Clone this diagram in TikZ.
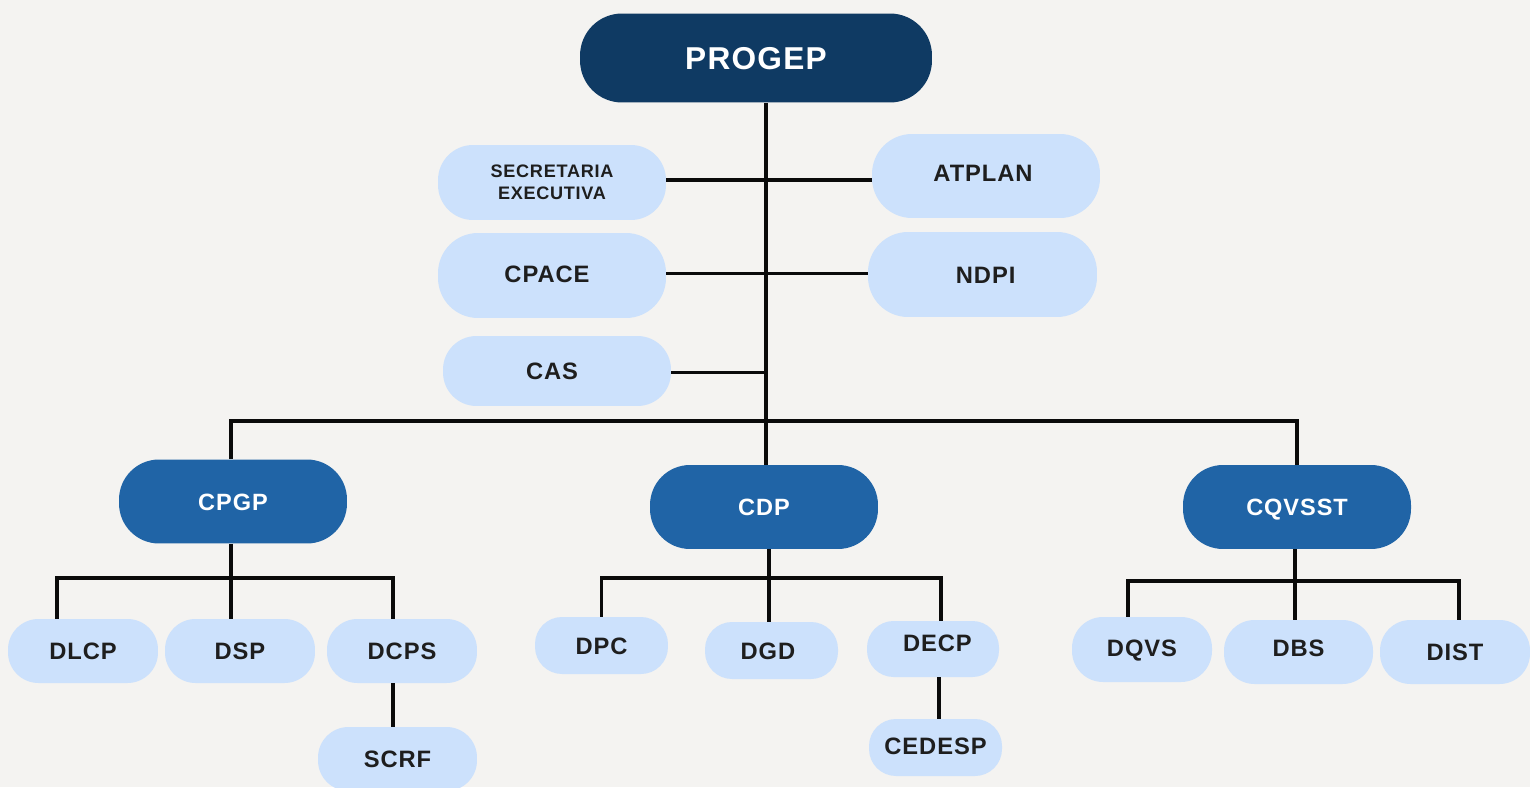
\documentclass[tikz,border=0pt]{standalone}
\usepackage{fontspec}
\setmainfont{Liberation Sans}[LetterSpace=4]
\definecolor{bgc}{HTML}{F4F3F1}
\definecolor{navy}{HTML}{0F3A63}
\definecolor{midblue}{HTML}{2064A6}
\definecolor{light}{HTML}{CCE1FC}
\definecolor{ink}{HTML}{1E1E1E}
\definecolor{linec}{HTML}{0A0A0A}
\tikzset{
  conn/.style={draw=linec, line width=1.85pt},
  pill/.style={rectangle, inner sep=0pt, font=\bfseries, text height=9.7pt, text depth=0pt},
  topbox/.style={pill, fill=navy, text=white, minimum width=7.04cm, minimum height=1.78cm, rounded corners=0.84cm, font=\bfseries\fontsize{18}{20}\selectfont, text height=12.9pt},
  midbox/.style={pill, fill=midblue, text=white, minimum width=4.56cm, minimum height=1.68cm, rounded corners=0.8cm, font=\bfseries\fontsize{13.4}{15}\selectfont},
  lbox/.style 2 args={pill, fill=light, text=ink, minimum width=#1, minimum height=#2, font=\bfseries\fontsize{13.5}{15}\selectfont},
}
\begin{document}
\begin{tikzpicture}[x=0.02cm, y=-0.02cm]
\path[use as bounding box, fill=bgc] (0,0) rectangle (1530,787);

% top
\node[topbox] (progep) at (756,58) {PROGEP};

% staff units
\node[lbox={4.56cm}{1.5cm}, rounded corners=0.7cm, align=center, font=\bfseries\fontsize{10.3}{12.4}\selectfont, text height=, text depth=] (sec) at (552,182.5) {SECRETARIA\\EXECUTIVA};
\node[lbox={4.56cm}{1.68cm}, rounded corners=0.8cm, text depth=3.4pt] (atplan) at (986,176) {ATPLAN\kern3.4pt};
\node[lbox={4.56cm}{1.7cm}, rounded corners=0.8cm, text depth=1.5pt] (cpace) at (552,275.5) {CPACE\kern5.7pt};
\node[lbox={4.58cm}{1.7cm}, rounded corners=0.8cm] (ndpi) at (982.5,274.5) {\kern3.6pt NDPI};
\node[lbox={4.56cm}{1.4cm}, rounded corners=0.67cm] (cas) at (557,371) {CAS\kern5.7pt};

% coordinations
\node[midbox] (cpgp) at (233,501.5) {CPGP};
\node[midbox] (cdp) at (764,507) {CDP};
\node[midbox] (cqvsst) at (1297,507) {CQVSST};

% CPGP divisions
\node[lbox={3.0cm}{1.28cm}, rounded corners=0.61cm] (dlcp) at (83,651) {DLCP};
\node[lbox={3.0cm}{1.28cm}, rounded corners=0.61cm] (dsp) at (240,651) {DSP};
\node[lbox={3.0cm}{1.28cm}, rounded corners=0.61cm] (dcps) at (402,651) {DCPS};
\node[lbox={3.18cm}{1.28cm}, rounded corners=0.61cm] (scrf) at (397.5,759) {SCRF};

% CDP divisions
\node[lbox={2.66cm}{1.14cm}, rounded corners=0.54cm] (dpc) at (601.5,645.5) {DPC};
\node[lbox={2.66cm}{1.14cm}, rounded corners=0.54cm] (dgd) at (771.5,650.5) {DGD\kern4pt};
\node[lbox={2.64cm}{1.12cm}, rounded corners=0.53cm, text depth=6.8pt] (decp) at (933,649) {\kern5pt DECP};
\node[lbox={2.66cm}{1.14cm}, rounded corners=0.54cm, text depth=1.5pt] (cedesp) at (935.5,747.5) {CEDESP};

% CQVSST divisions
\node[lbox={2.8cm}{1.3cm}, rounded corners=0.62cm, text depth=2pt] (dqvs) at (1142,649.5) {DQVS};
\node[lbox={2.98cm}{1.28cm}, rounded corners=0.61cm, text depth=4.5pt] (dbs) at (1298.5,652) {DBS};
\node[lbox={3.0cm}{1.28cm}, rounded corners=0.61cm] (dist) at (1455,652) {DIST};

% junction coordinates
\coordinate (t) at (766,421);
\coordinate (r1) at (766,180);
\coordinate (r2) at (766,273.5);
\coordinate (r3) at (766,372.5);
\coordinate (j1) at (231,578);
\coordinate (j2) at (769,578);
\coordinate (j3) at (1295,581);

% trunk and side branches
\draw[conn] (progep.south -| t) -- (t |- cdp.north);
\draw[conn] (r1 -| sec.east) -- (r1 -| atplan.west);
\draw[conn] (r2 -| cpace.east) -- (r2 -| ndpi.west);
\draw[conn] (r3 -| cas.east) -- (r3);

% main bus
\draw[conn] (j1 |- cpgp.north) |- (t) -| (cqvsst.north);

% CPGP
\draw[conn] (j1 |- cpgp.south) -- (j1);
\draw[conn] ([xshift=-0.52cm]dlcp.north) |- (j1) -| ([xshift=-0.18cm]dcps.north);
\draw[conn] (j1) -- (j1 |- dsp.north);
\draw[conn] ([xshift=-0.18cm]dcps.south) -- ([xshift=-0.18cm]dcps.south |- scrf.north);

% CDP
\draw[conn] (j2 |- cdp.south) -- (j2);
\draw[conn] (dpc.north) |- (j2) -| ([xshift=0.16cm]decp.north);
\draw[conn] (j2) -- (j2 |- dgd.north);
\draw[conn] ([xshift=0.12cm]decp.south) -- ([xshift=0.12cm]decp.south |- cedesp.north);

% CQVSST
\draw[conn] (j3 |- cqvsst.south) -- (j3);
\draw[conn] ([xshift=-0.28cm]dqvs.north) |- (j3) -| ([xshift=0.08cm]dist.north);
\draw[conn] (j3) -- (j3 |- dbs.north);
\end{tikzpicture}
\end{document}
